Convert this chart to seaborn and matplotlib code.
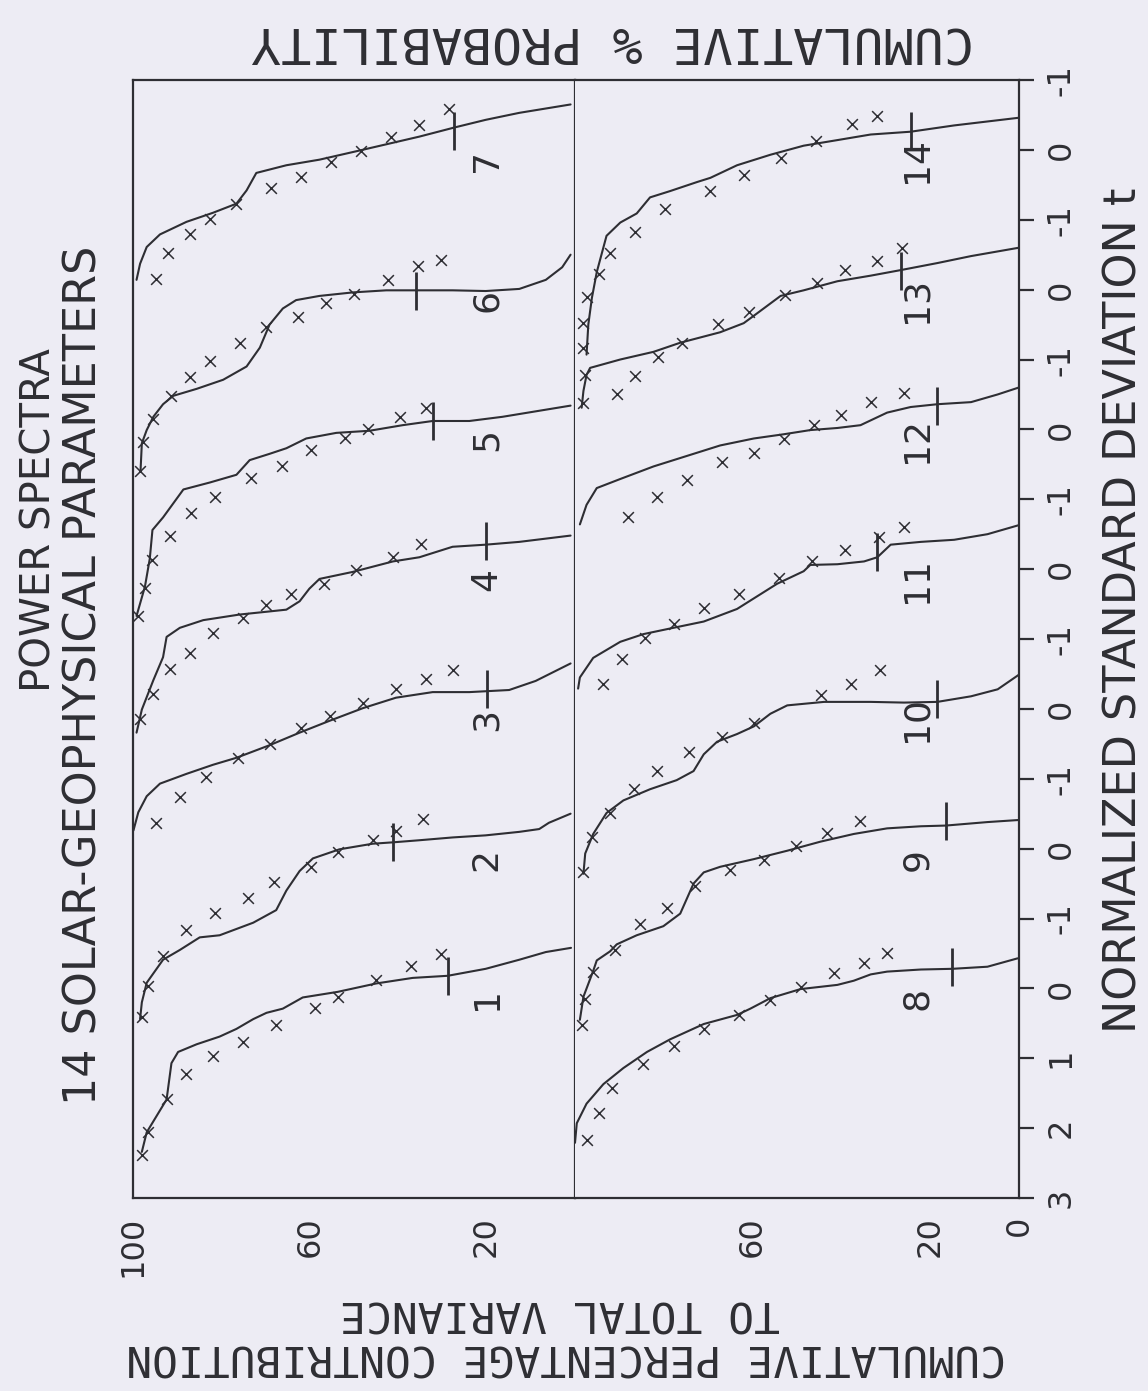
import matplotlib
matplotlib.use("Agg")
import matplotlib.pyplot as plt
import seaborn as sns
import pandas as pd

# ------------------------------------------------------------------ data
# Each curve: fitted line (cumulative %, t) and observed points "x" (cumulative %, t)
c1_line_pct = [98.0, 96.9, 92.4, 91.3, 89.8, 85.6, 80.4, 76.6, 72.8, 69.8, 66.1, 61.6, 53.7, 45.0, 36.7, 28.8, 20.2, 12.6, 6.6, 0.9]
c1_line_t = [2.34, 2.06, 1.59, 1.07, 0.91, 0.80, 0.69, 0.58, 0.44, 0.35, 0.29, 0.13, 0.05, -0.07, -0.15, -0.18, -0.28, -0.41, -0.52, -0.58]
c1_x_pct = [98.0, 96.5, 92.4, 87.9, 81.9, 75.1, 67.6, 58.9, 53.7, 45.0, 37.1, 30.3]
c1_x_t = [2.39, 2.06, 1.59, 1.22, 0.97, 0.77, 0.52, 0.28, 0.13, -0.12, -0.32, -0.49]

c2_line_pct = [98.4, 98.0, 96.9, 93.2, 89.4, 87.9, 84.9, 80.4, 72.8, 67.6, 65.3, 62.3, 59.3, 53.3, 45.8, 41.2, 35.2, 27.7, 20.2, 12.6, 8.1, 5.9, 1.0]
c2_line_t = [2.44, 2.20, 1.92, 1.59, 1.45, 1.39, 1.27, 1.24, 1.06, 0.88, 0.60, 0.32, 0.14, 0.01, -0.07, -0.09, -0.12, -0.16, -0.19, -0.24, -0.28, -0.37, -0.50]
c2_x_pct = [98.0, 96.5, 93.2, 87.9, 81.5, 74.0, 68.0, 59.7, 53.7, 45.8, 40.5, 34.5]
c2_x_t = [2.41, 1.96, 1.54, 1.17, 0.92, 0.70, 0.48, 0.26, 0.05, -0.12, -0.25, -0.43]

c3_line_pct = [99.9, 98.8, 96.9, 93.9, 87.9, 81.9, 76.6, 69.1, 62.3, 55.5, 48.0, 40.5, 32.2, 23.9, 14.9, 8.9, 1.0]
c3_line_t = [1.74, 1.48, 1.25, 1.07, 0.93, 0.80, 0.70, 0.52, 0.34, 0.17, -0.01, -0.16, -0.24, -0.24, -0.27, -0.40, -0.65]
c3_x_pct = [94.7, 89.4, 83.4, 76.2, 69.1, 61.9, 55.5, 48.0, 40.5, 33.7, 27.7]
c3_x_t = [1.63, 1.26, 0.97, 0.70, 0.50, 0.27, 0.10, -0.08, -0.28, -0.43, -0.56]

c4_line_pct = [99.2, 98.0, 95.4, 93.2, 92.4, 89.4, 84.1, 75.9, 69.8, 65.3, 62.3, 60.1, 57.8, 50.3, 41.2, 35.2, 27.7, 20.2, 12.6, 1.0]
c4_line_t = [2.34, 2.01, 1.59, 1.26, 0.97, 0.84, 0.73, 0.65, 0.61, 0.58, 0.46, 0.28, 0.14, 0.04, -0.11, -0.17, -0.32, -0.35, -0.39, -0.48]
c4_x_pct = [98.4, 95.4, 91.7, 87.1, 81.9, 75.1, 69.8, 64.2, 56.7, 49.5, 41.2, 34.8]
c4_x_t = [2.15, 1.78, 1.43, 1.20, 0.92, 0.70, 0.52, 0.36, 0.21, 0.01, -0.18, -0.36]

c5_line_pct = [99.2, 97.3, 96.2, 95.6, 93.2, 88.6, 82.6, 76.6, 73.6, 69.1, 65.3, 60.8, 54.0, 46.5, 39.0, 32.2, 23.9, 16.4, 1.0]
c5_line_t = [2.67, 2.25, 1.85, 1.44, 1.26, 0.86, 0.76, 0.65, 0.44, 0.35, 0.27, 0.13, 0.05, 0.02, -0.06, -0.12, -0.12, -0.18, -0.34]
c5_x_pct = [98.8, 97.3, 95.8, 91.7, 86.8, 81.5, 73.2, 66.4, 59.7, 52.1, 46.9, 39.7, 33.7]
c5_x_t = [2.67, 2.27, 1.87, 1.52, 1.20, 0.97, 0.70, 0.53, 0.30, 0.13, 0.00, -0.18, -0.31]

c6_line_pct = [98.3, 98.0, 96.9, 95.4, 93.2, 90.9, 85.6, 79.6, 74.3, 71.3, 69.1, 66.1, 63.1, 57.8, 50.3, 42.7, 27.7, 20.2, 12.6, 6.6, 2.9, 1.0]
c6_line_t = [2.60, 2.20, 2.01, 1.82, 1.64, 1.52, 1.42, 1.29, 1.10, 0.83, 0.50, 0.27, 0.15, 0.09, 0.04, 0.01, 0.01, 0.02, -0.01, -0.14, -0.32, -0.50]
c6_x_pct = [98.4, 97.7, 95.4, 91.3, 87.1, 82.6, 75.9, 69.8, 62.7, 56.3, 49.9, 42.4, 35.6, 30.3]
c6_x_t = [2.60, 2.18, 1.85, 1.52, 1.25, 1.02, 0.77, 0.54, 0.39, 0.19, 0.06, -0.14, -0.34, -0.42]

c7_line_pct = [99.2, 98.4, 96.9, 93.9, 87.9, 81.9, 76.6, 74.3, 72.1, 65.3, 57.8, 48.8, 42.0, 35.2, 27.3, 20.2, 12.6, 1.0]
c7_line_t = [1.86, 1.63, 1.39, 1.21, 1.03, 0.90, 0.77, 0.58, 0.33, 0.22, 0.14, 0.01, -0.09, -0.19, -0.32, -0.43, -0.53, -0.65]
c7_x_pct = [94.7, 92.0, 87.1, 82.6, 76.6, 68.7, 61.9, 55.2, 48.4, 41.6, 35.2, 28.4]
c7_x_t = [1.85, 1.47, 1.20, 0.99, 0.77, 0.55, 0.39, 0.17, 0.02, -0.18, -0.36, -0.59]

c8_line_pct = [100.0, 99.6, 97.4, 93.6, 89.1, 83.8, 78.6, 71.0, 63.5, 60.5, 56.0, 49.2, 40.9, 37.2, 33.4, 29.7, 22.1, 15.0, 7.1, 0.3]
c8_line_t = [2.21, 1.93, 1.65, 1.37, 1.14, 0.91, 0.73, 0.51, 0.38, 0.29, 0.14, 0.01, -0.05, -0.11, -0.20, -0.24, -0.27, -0.28, -0.31, -0.43]
c8_x_pct = [97.4, 94.7, 91.7, 84.6, 77.8, 71.0, 63.1, 56.0, 49.2, 41.7, 34.9, 29.7]
c8_x_t = [2.17, 1.79, 1.42, 1.08, 0.83, 0.58, 0.38, 0.16, -0.02, -0.22, -0.37, -0.50]

c9_line_pct = [98.9, 98.1, 95.9, 95.1, 92.1, 90.6, 86.1, 80.1, 76.3, 73.3, 71.0, 67.3, 59.7, 52.2, 44.7, 37.2, 29.7, 22.1, 16.5, 7.1, 0.0]
c9_line_t = [2.45, 2.12, 1.75, 1.60, 1.47, 1.37, 1.24, 1.11, 0.93, 0.50, 0.34, 0.26, 0.15, 0.03, -0.10, -0.21, -0.29, -0.32, -0.33, -0.38, -0.41]
c9_x_pct = [98.5, 97.7, 95.9, 91.0, 85.3, 79.3, 72.9, 65.0, 57.5, 50.3, 43.2, 35.7]
c9_x_t = [2.52, 2.15, 1.77, 1.45, 1.08, 0.85, 0.53, 0.31, 0.16, -0.04, -0.22, -0.39]

c10_line_pct = [98.1, 97.7, 95.9, 92.9, 89.1, 83.1, 77.1, 73.3, 71.0, 68.0, 63.5, 59.7, 56.0, 52.2, 43.9, 33.4, 25.9, 18.4, 10.8, 4.8, 0.0]
c10_line_t = [2.36, 2.07, 1.79, 1.49, 1.31, 1.15, 1.02, 0.89, 0.65, 0.47, 0.36, 0.25, 0.07, -0.05, -0.10, -0.10, -0.09, -0.10, -0.18, -0.28, -0.49]
c10_x_pct = [98.1, 96.2, 92.1, 86.8, 81.6, 74.4, 66.9, 59.7, 44.7, 37.9, 31.2]
c10_x_t = [2.33, 1.84, 1.49, 1.14, 0.89, 0.62, 0.40, 0.20, -0.20, -0.35, -0.55]

c11_line_pct = [99.3, 98.9, 95.9, 89.8, 84.6, 78.6, 71.0, 63.5, 59.0, 54.5, 48.5, 47.0, 40.9, 34.9, 31.9, 28.9, 22.1, 14.6, 7.1, 0.0]
c11_line_t = [1.71, 1.55, 1.27, 1.04, 0.93, 0.85, 0.75, 0.57, 0.39, 0.21, 0.03, -0.06, -0.07, -0.11, -0.17, -0.35, -0.39, -0.42, -0.50, -0.63]
c11_x_pct = [93.6, 89.5, 84.2, 77.8, 71.0, 63.1, 54.1, 46.6, 39.1, 31.5, 25.9]
c11_x_t = [1.65, 1.28, 0.98, 0.78, 0.56, 0.36, 0.12, -0.11, -0.28, -0.46, -0.61]

c12_line_pct = [98.9, 97.4, 95.1, 89.8, 82.3, 74.8, 67.3, 59.7, 53.0, 47.0, 40.9, 35.7, 29.7, 24.4, 18.4, 10.8, 4.8, 0.0]
c12_line_t = [1.36, 1.08, 0.84, 0.71, 0.53, 0.38, 0.23, 0.13, 0.07, 0.01, -0.02, -0.06, -0.24, -0.32, -0.36, -0.39, -0.50, -0.60]
c12_x_pct = [88.0, 81.6, 74.8, 66.9, 59.7, 53.0, 46.2, 40.2, 33.4, 25.9]
c12_x_t = [1.26, 0.97, 0.72, 0.47, 0.34, 0.14, -0.06, -0.21, -0.39, -0.52]

c13_line_pct = [98.5, 98.1, 97.4, 96.6, 89.8, 82.3, 76.3, 67.3, 62.0, 59.0, 53.7, 48.5, 40.9, 33.4, 26.6, 18.4, 10.8, 0.0]
c13_line_t = [1.69, 1.45, 1.22, 1.12, 1.00, 0.89, 0.76, 0.61, 0.48, 0.34, 0.09, 0.01, -0.12, -0.20, -0.28, -0.38, -0.48, -0.60]
c13_x_pct = [98.1, 97.7, 90.6, 86.5, 81.2, 75.9, 67.7, 60.9, 52.6, 45.5, 39.1, 31.9, 26.3]
c13_x_t = [1.62, 1.22, 1.49, 1.24, 0.97, 0.76, 0.49, 0.32, 0.07, -0.10, -0.28, -0.41, -0.59]

c14_line_pct = [97.4, 97.0, 96.2, 95.1, 92.9, 89.8, 86.1, 83.1, 78.6, 72.5, 69.5, 63.5, 56.0, 48.5, 40.9, 33.4, 24.4, 14.6, 0.0]
c14_line_t = [2.93, 2.50, 2.12, 1.75, 1.23, 1.04, 0.91, 0.68, 0.59, 0.46, 0.40, 0.22, 0.07, -0.06, -0.14, -0.22, -0.26, -0.35, -0.46]
c14_x_pct = [98.1, 98.1, 97.4, 94.7, 92.1, 86.5, 79.7, 69.5, 62.0, 53.7, 45.8, 37.6, 31.9]
c14_x_t = [2.84, 2.48, 2.10, 1.77, 1.47, 1.17, 0.85, 0.59, 0.36, 0.12, -0.13, -0.37, -0.48]

# short bar marked on each curve (cumulative %, t)
mark_pct = [28.8, 41.2, 19.8, 20.2, 32.2, 36.0, 27.3, 15.0, 16.5, 18.4, 31.9, 18.4, 26.6, 24.4]
mark_t = [-0.18, -0.10, -0.28, -0.40, -0.12, 0.02, -0.27, -0.30, -0.39, -0.14, -0.24, -0.33, -0.27, -0.27]

curve_ids = list(range(1, 15))
x_ticks_left = [100, 60, 20]
x_ticks_right = [60, 20, 0]
t_tick_labels = ["3", "2", "1", "0", "-1", "0", "-1", "0", "-1", "0", "-1", "0", "-1", "0", "-1", "0", "-1"]

# ------------------------------------------------------------------ assemble
lines = [(c1_line_pct, c1_line_t), (c2_line_pct, c2_line_t), (c3_line_pct, c3_line_t),
         (c4_line_pct, c4_line_t), (c5_line_pct, c5_line_t), (c6_line_pct, c6_line_t),
         (c7_line_pct, c7_line_t), (c8_line_pct, c8_line_t), (c9_line_pct, c9_line_t),
         (c10_line_pct, c10_line_t), (c11_line_pct, c11_line_t), (c12_line_pct, c12_line_t),
         (c13_line_pct, c13_line_t), (c14_line_pct, c14_line_t)]
points = [(c1_x_pct, c1_x_t), (c2_x_pct, c2_x_t), (c3_x_pct, c3_x_t), (c4_x_pct, c4_x_t),
          (c5_x_pct, c5_x_t), (c6_x_pct, c6_x_t), (c7_x_pct, c7_x_t), (c8_x_pct, c8_x_t),
          (c9_x_pct, c9_x_t), (c10_x_pct, c10_x_t), (c11_x_pct, c11_x_t), (c12_x_pct, c12_x_t),
          (c13_x_pct, c13_x_t), (c14_x_pct, c14_x_t)]

STEP = 2.0  # each curve's t-scale is shifted by 2 units


def offset(k):
    j = k if k <= 7 else k - 7
    return STEP * (j - 1)


line_rows, pt_rows, mk_rows = [], [], []
for i, k in enumerate(curve_ids):
    panel = 0 if k <= 7 else 1
    off = offset(k)
    for p, t in zip(*lines[i]):
        line_rows.append(dict(curve=k, panel=panel, pct=p, pos=off - t))
    for p, t in zip(*points[i]):
        pt_rows.append(dict(curve=k, panel=panel, pct=p, pos=off - t))
    mk_rows.append(dict(curve=k, panel=panel, pct=mark_pct[i], pos=off - mark_t[i]))
df_line = pd.DataFrame(line_rows)
df_pt = pd.DataFrame(pt_rows)
df_mk = pd.DataFrame(mk_rows)

# ------------------------------------------------------------------ style
INK = "#2e2e33"
PAPER = "#edecf4"
sns.set_style("white")
plt.rcParams["font.family"] = ["DejaVu Sans"]
plt.rcParams["text.color"] = INK
plt.rcParams["axes.edgecolor"] = INK
plt.rcParams["xtick.color"] = INK
plt.rcParams["ytick.color"] = INK

W, H = 1148, 1391
fig = plt.figure(figsize=(W / 100, H / 100), dpi=100, facecolor=PAPER)

x0, xm, x1 = 133, 575, 1019
ytop, ybot = 80, 1198
ax_l = fig.add_axes([x0 / W, 1 - ybot / H, (xm - x0) / W, (ybot - ytop) / H])
ax_r = fig.add_axes([xm / W, 1 - ybot / H, (x1 - xm) / W, (ybot - ytop) / H])

for p, ax in enumerate([ax_l, ax_r]):
    ax.set_facecolor(PAPER)
    sub_l = df_line[df_line.panel == p]
    sub_p = df_pt[df_pt.panel == p]
    sub_m = df_mk[df_mk.panel == p]
    sns.lineplot(data=sub_l, x="pct", y="pos", units="curve", estimator=None, sort=False,
                 color=INK, linewidth=1.5, ax=ax)
    sns.scatterplot(data=sub_p, x="pct", y="pos", marker="x", s=60, color=INK,
                    linewidth=1.1, ax=ax)
    sns.scatterplot(data=sub_m, x="pct", y="pos", marker="|", s=750, color=INK,
                    linewidth=2.0, ax=ax)
    ax.set_xlim(100, 0)
    ax.set_ylim(-3, 13)
    ax.set_xlabel("")
    ax.set_ylabel("")
    for s in ax.spines.values():
        s.set_linewidth(1.6)
        s.set_color(INK)
    # curve numbers
    lab_pct = 20.0 if p == 0 else 23.0
    for k in sub_m.curve:
        ax.text(lab_pct, offset(k) - 0.15, str(k), rotation=90, ha="center", va="center",
                fontsize=26, color=INK)

ax_l.set_xticks(x_ticks_left)
ax_l.set_xticklabels([str(v) for v in x_ticks_left], rotation=90, fontsize=23)
ax_l.set_yticks([])
ax_l.tick_params(axis="x", direction="out", length=7, width=1.6, pad=6)

ax_r.spines["left"].set_visible(False)
ax_r.set_xticks(x_ticks_right)
ax_r.set_xticklabels([str(v) for v in x_ticks_right], rotation=90, fontsize=23)
ax_r.tick_params(axis="x", direction="out", length=7, width=1.6, pad=6)
ax_r.yaxis.tick_right()
ax_r.set_yticks(list(range(-3, 14)))
ax_r.set_yticklabels(t_tick_labels, rotation=90, va="center", fontsize=23)
ax_r.tick_params(axis="y", direction="out", length=11, width=1.6, pad=8)


def ftext(x, y, s, **kw):
    fig.text(x / W, 1 - y / H, s, ha="center", va="center", color=INK, **kw)


MONO = ["DejaVu Sans Mono"]
ftext(613, 40, "CUMULATIVE % PROBABILITY", rotation=180, family=MONO, fontsize=36)
ftext(566, 1356, "CUMULATIVE PERCENTAGE CONTRIBUTION", rotation=180, family=MONO, fontsize=31)
ftext(560, 1313, "TO TOTAL VARIANCE", rotation=180, family=MONO, fontsize=31)
ftext(1124, 610, "NORMALIZED STANDARD DEVIATION t", rotation=90, fontsize=32)
ftext(40, 520, "POWER SPECTRA", rotation=90, fontsize=29)
ftext(84, 675, "14 SOLAR-GEOPHYSICAL PARAMETERS", rotation=90, fontsize=32)

fig.savefig("out.png", dpi=100, facecolor=PAPER)
